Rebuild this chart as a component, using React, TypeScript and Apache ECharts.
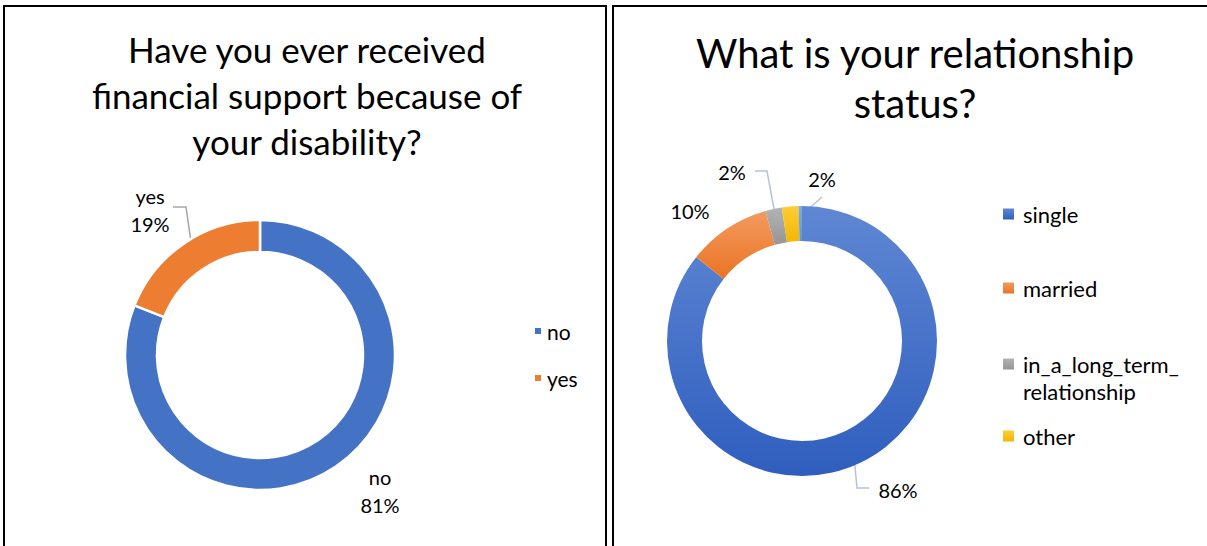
import React, { useEffect, useRef } from "react";
import * as echarts from "echarts";

const q1Title = "Have you ever received\nfinancial support because of\nyour disability?";
const q1Categories = ["no", "yes"];
const q1Values = [81, 19];

const q2Title = "What is your relationship\nstatus?";
const q2Categories = ["single", "married", "in_a_long_term_relationship", "other", "(blank)"];
const q2Values = [86, 10, 2, 2, 0.4];
const q2LegendNames = ["single", "married", "in_a_long_term_relationship", "other"];

const FONT = "Lato";

// layout (not data)
const P1 = { center: [260, 355], radius: [103, 135] };
const P2 = { center: [802, 341], radius: [100, 135] };
const q1LabelPos: number[][] = [[380, 491], [150, 210]];
const q1Knees: (number[][] | null)[] = [null, [[186, 207], [173, 207]]];
const q2LabelPos: number[][] = [[898, 490], [690, 211], [732, 172], [822, 179], [0, 0]];
const q2Knees: (number[][] | null)[] = [[[857, 488], [869, 488]], null, [[767, 171], [755, 171]], [[822, 197]], null];

const q1Colors = ["#4472C4", "#ED7D31"];
const grad = (a: string, b: string) => ({
  type: "linear", x: 0, y: 0, x2: 0, y2: 1,
  colorStops: [{ offset: 0, color: a }, { offset: 1, color: b }],
});
const q2Colors = [
  grad("#5f87d3", "#2f5ebe"),
  grad("#f39a60", "#ea7424"),
  grad("#b3b3b3", "#959595"),
  grad("#ffcb38", "#f2b800"),
  grad("#7aaee0", "#5b9bd5"),
];

function midAngle(values: number[], i: number) {
  const total = values.reduce((a, b) => a + b, 0);
  let before = 0;
  for (let k = 0; k < i; k++) before += values[k];
  return ((before + values[i] / 2) / total) * 360;
}
function ringPoint(p: { center: number[]; radius: number[] }, deg: number) {
  const r = (p.radius[0] + p.radius[1]) / 2;
  const a = (deg * Math.PI) / 180;
  return [p.center[0] + r * Math.sin(a), p.center[1] - r * Math.cos(a)];
}
function makeLayout(values: number[], p: any, pos: number[][], knees: (number[][] | null)[]) {
  return (params: any) => {
    const i = params.dataIndex;
    const res: any = { x: pos[i][0], y: pos[i][1], align: "center", verticalAlign: "middle" };
    const k = knees[i];
    if (k) res.labelLinePoints = [ringPoint(p, midAngle(values, i)), ...k];
    return res;
  };
}

export default function App() {
  const ref = useRef<HTMLDivElement>(null);
  useEffect(() => {
    if (!ref.current) return;
    const chart = echarts.init(ref.current, null, { renderer: "svg" });
    const legText = (size: number) => ({ fontFamily: FONT, fontSize: size, lineHeight: size, color: "#000" });
    const rightLegend = (name: string, cy: number, extra: any = {}) => ({
      data: [name], left: 998, top: cy - 16, icon: "rect", itemWidth: 11, itemHeight: 11,
      textStyle: { ...legText(22), padding: [0, 0, 0, 4] }, ...extra,
    });
    const option: any = {
      animation: false,
      backgroundColor: "#ffffff",
      title: [
        {
          text: q1Title, left: 302, top: 21, textAlign: "center",
          textStyle: { fontFamily: FONT, fontSize: 35, fontWeight: "normal", color: "#000", lineHeight: 46, align: "center" },
        },
        {
          text: q2Title, left: 910, top: 23, textAlign: "center",
          textStyle: { fontFamily: FONT, fontSize: 40, fontWeight: "normal", color: "#000", lineHeight: 50, align: "center" },
        },
      ],
      legend: [
        {
          data: q1Categories, orient: "vertical", left: 528, top: 331 - 5 - 10.5, itemGap: 26,
          icon: "rect", itemWidth: 8, itemHeight: 8,
          textStyle: legText(21),
        },
        rightLegend(q2LegendNames[0], 214),
        rightLegend(q2LegendNames[1], 288),
        rightLegend(q2LegendNames[2], 364, { formatter: () => "in_a_long_term_" }),
        rightLegend(q2LegendNames[3], 436),
      ],
      graphic: [
        { type: "rect", shape: { x: 4, y: 6, width: 602, height: 600 }, style: { fill: "none", stroke: "#000", lineWidth: 2 } },
        { type: "rect", shape: { x: 613, y: 6, width: 620, height: 600 }, style: { fill: "none", stroke: "#000", lineWidth: 2 } },
        { type: "text", x: 1023, y: 391, style: { text: "relationship", font: `22px ${FONT}`, fill: "#000", verticalAlign: "middle" } },
      ],
      series: [
        {
          type: "pie", center: P1.center, radius: P1.radius, startAngle: 90, clockwise: true,
          itemStyle: { borderColor: "#fff", borderWidth: 2.5 },
          label: {
            show: true, position: "outside", formatter: "{b}\n{d}%",
            fontFamily: FONT, fontSize: 20, color: "#000", lineHeight: 28, align: "center",
          },
          labelLine: { show: true, lineStyle: { color: "#a6a6a6", width: 1.5 } },
          labelLayout: makeLayout(q1Values, P1, q1LabelPos, q1Knees),
          data: q1Categories.map((n, i) => ({
            name: n, value: q1Values[i], itemStyle: { color: q1Colors[i] },
            labelLine: q1Knees[i] ? undefined : { show: false },
          })),
        },
        {
          type: "pie", center: P2.center, radius: P2.radius, startAngle: 90, clockwise: true,
          itemStyle: { borderWidth: 0 },
          label: {
            show: true, position: "outside", formatter: (p: any) => `${p.value}%`,
            fontFamily: FONT, fontSize: 20, color: "#000",
          },
          labelLine: { show: true, lineStyle: { color: "#b4c4d8", width: 1.5 } },
          labelLayout: makeLayout(q2Values, P2, q2LabelPos, q2Knees),
          data: q2Categories.map((n, i) => ({
            name: n, value: q2Values[i], itemStyle: { color: q2Colors[i] },
            label: i === 4 ? { show: false } : undefined,
            labelLine: q2Knees[i] ? undefined : { show: false },
          })),
        },
      ],
    };
    chart.setOption(option);
    return () => chart.dispose();
  }, []);
  return <div ref={ref} style={{ position: "absolute", left: 0, top: 0, width: 1207, height: 546 }} />;
}
